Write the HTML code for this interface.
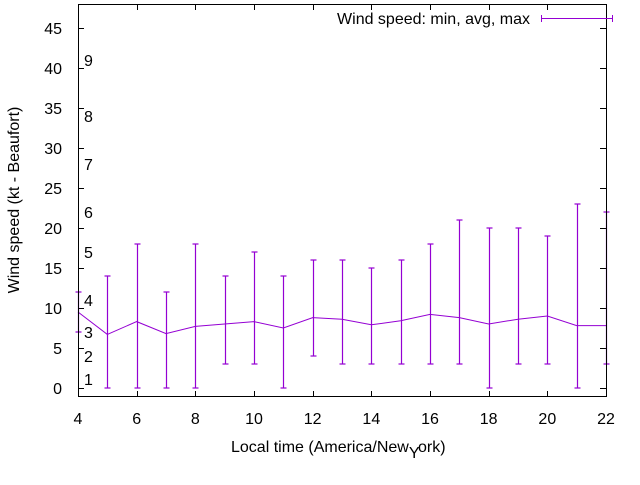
<!DOCTYPE html>
<html><head><meta charset="utf-8"><style>
body{margin:0;background:#fff;}
svg text{font-family:"Liberation Sans",sans-serif;font-size:16px;fill:#000;}
</style></head><body>
<svg id="chart" width="640" height="480" viewBox="0 0 640 480">
<g id="grid"></g>
<g id="marks"></g>
<rect x="78.5" y="4.5" width="528" height="392" fill="none" stroke="#000"/>
<text x="231" y="452">Local time (America/New<tspan dy="6">Y</tspan><tspan dy="-6">ork)</tspan></text>
<text transform="translate(19,200) rotate(-90)" text-anchor="middle">Wind speed (kt - Beaufort)</text>
<g>
<text x="530" y="24" text-anchor="end">Wind speed: min, avg, max</text>
<line x1="541" y1="18.5" x2="613" y2="18.5" stroke="#9400d3"/>
<line x1="541.5" y1="15" x2="541.5" y2="22" stroke="#9400d3"/>
<line x1="612.5" y1="15" x2="612.5" y2="22" stroke="#9400d3"/>
</g>
</svg>
<script>
const hours=[4,5,6,7,8,9,10,11,12,13,14,15,16,17,18,19,20,21,22];
const avgs=[9.5,6.7,8.3,6.8,7.7,8,8.3,7.5,8.8,8.6,7.9,8.4,9.2,8.8,8,8.6,9,7.8,7.8];
const mins=[7,0,0,0,0,3,3,0,4,3,3,3,3,3,0,3,3,0,3];
const maxs=[12,14,18,12,18,14,17,14,16,16,15,16,18,21,20,20,19,23,22];
const xTicks=[4,6,8,10,12,14,16,18,20,22];
const yTicks=[0,5,10,15,20,25,30,35,40,45];
const beaufortLabels=["1","2","3","4","5","6","7","8","9"];
const beaufortY=[1,3.9,6.9,10.9,16.9,21.9,27.9,33.9,40.9];
const NS="http://www.w3.org/2000/svg";
const X=h=>78+(h-4)*528/18;
const Y=v=>388-v*8;
const grid=document.getElementById('grid');
const marks=document.getElementById('marks');
function mk(tag,attrs,parent){const e=document.createElementNS(NS,tag);for(const k in attrs)e.setAttribute(k,attrs[k]);parent.appendChild(e);return e;}
xTicks.forEach(t=>{
 const x=Math.round(X(t))+0.5;
 const l1=mk('line',{x1:x,y1:397,x2:x,y2:391,stroke:'#000'},grid);
 
 
 mk('line',{x1:x,y1:4,x2:x,y2:10,stroke:'#000'},grid);
 const tx=mk('text',{x:X(t),y:424,'text-anchor':'middle'},grid);
 tx.textContent=t;
 
 
});
yTicks.forEach(t=>{
 const y=Math.round(Y(t))+0.5;
 const l1=mk('line',{x1:78,y1:y,x2:84,y2:y,stroke:'#000'},grid);
 
 
 mk('line',{x1:606,y1:y,x2:600,y2:y,stroke:'#000'},grid);
 const tx=mk('text',{x:62,y:Y(t)+6,'text-anchor':'end'},grid);
 tx.textContent=t;
 
 
});
beaufortLabels.forEach((b,i)=>{
 const tx=mk('text',{x:84,y:Y(beaufortY[i])+5},grid);
 tx.textContent=b;
 
 
});
const pl=mk('polyline',{points:hours.map((h,i)=>X(h)+','+Y(avgs[i])).join(' '),fill:'none',stroke:'#9400d3'},marks);


hours.forEach((h,i)=>{
 const x=Math.round(X(h))+0.5;
 const g=mk('g',{stroke:'#9400d3','stroke-width':1.2},marks);
 
 
 mk('line',{x1:x,y1:Y(mins[i]),x2:x,y2:Y(maxs[i])},g);
 mk('line',{x1:x-3,y1:Y(mins[i]),x2:x+3,y2:Y(mins[i])},g);
 mk('line',{x1:x-3,y1:Y(maxs[i]),x2:x+3,y2:Y(maxs[i])},g);
});
</script>
</body></html>
